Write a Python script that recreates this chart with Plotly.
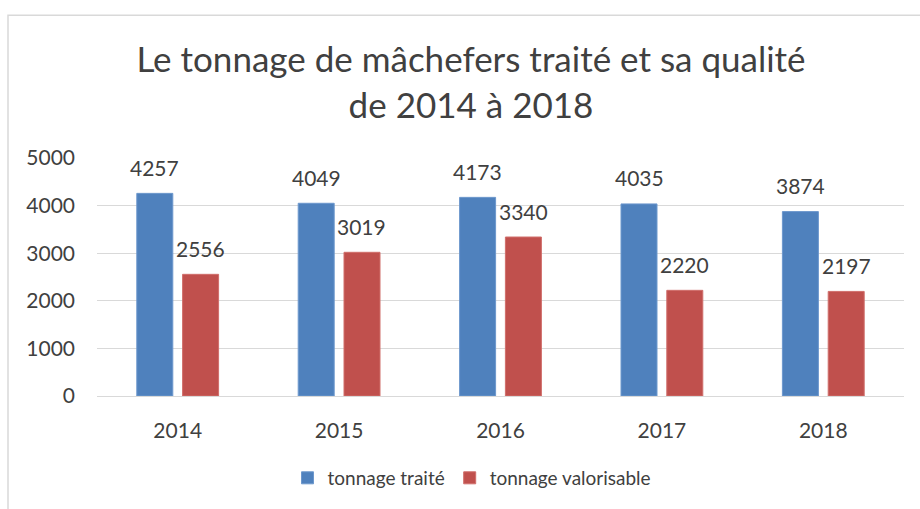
import plotly.graph_objects as go

years = ["2014", "2015", "2016", "2017", "2018"]
tonnage_traite = [4257, 4049, 4173, 4035, 3874]
tonnage_valorisable = [2556, 3019, 3340, 2220, 2197]
series_names = ["tonnage traité", "tonnage valorisable"]
title_text = "Le tonnage de mâchefers traité et sa qualité<br>de 2014 à 2018"

W, H = 920, 509
ML, MR, MT, MB = 97, 16, 158, 110
BARGAP = 0.4325
GROUPGAP = 0.214
FONT = "Lato"
TXT = "#404040"
BLUE = "#4F81BD"
RED = "#C0504D"
GRID = "#D9D9D9"

fig = go.Figure()
fig.add_trace(go.Bar(x=years, y=tonnage_traite, name=series_names[0],
                     marker=dict(color=BLUE, line=dict(color="#6D98CD", width=1))))
fig.add_trace(go.Bar(x=years, y=tonnage_valorisable, name=series_names[1],
                     marker=dict(color=RED, line=dict(color="#D06E6B", width=1))))

plot_w = W - ML - MR
slot = plot_w / len(years) * (1 - BARGAP) / 2
annots = []
for vals, sh in ((tonnage_traite, -slot / 2), (tonnage_valorisable, slot / 2)):
    for i, v in enumerate(vals):
        annots.append(dict(x=i, y=v, xref="x", yref="y", text=str(v), showarrow=False,
                           xshift=sh, yshift=26, yanchor="middle",
                           font=dict(family=FONT, size=21, color=TXT)))

ph = H - MT - MB
def px_x(p):
    return (p - ML) / plot_w
def px_y(p):
    return (H - MB - p) / ph

fig.update_layout(
    width=W, height=H,
    margin=dict(l=ML, r=MR, t=MT, b=MB),
    paper_bgcolor="white", plot_bgcolor="white",
    font=dict(family=FONT, color=TXT),
    barmode="group", bargap=BARGAP, bargroupgap=GROUPGAP,
    title=dict(text=title_text, x=471 / W, xanchor="center", y=1 - 72 / H, yanchor="middle",
               font=dict(family=FONT, size=35, color=TXT)),
    xaxis=dict(type="category", range=[-0.5, len(years) - 0.5], autorange=False,
               showgrid=False, showline=True, linecolor=GRID, linewidth=1,
               tickfont=dict(family=FONT, size=21, color=TXT), ticks="",
               ticklabelstandoff=16),
    yaxis=dict(range=[0, 5000], autorange=False, tick0=0, dtick=1000, showgrid=True,
               gridcolor=GRID, gridwidth=1, zeroline=False, showline=False,
               tickfont=dict(family=FONT, size=21, color=TXT), ticks="",
               ticklabelstandoff=21),
    legend=dict(orientation="h", x=px_x(472), xanchor="center", y=px_y(482), yanchor="middle",
                font=dict(family=FONT, size=19, color=TXT), itemwidth=30, traceorder="normal"),
    annotations=annots,
    shapes=[dict(type="rect", xref="paper", yref="paper",
                 x0=px_x(8), x1=px_x(930), y0=px_y(520), y1=px_y(13.5),
                 line=dict(color=GRID, width=1.5), fillcolor="rgba(0,0,0,0)", layer="below")],
)

fig.write_html("out.html", config={"displayModeBar": False},
               post_script="document.body.style.margin='0';")
